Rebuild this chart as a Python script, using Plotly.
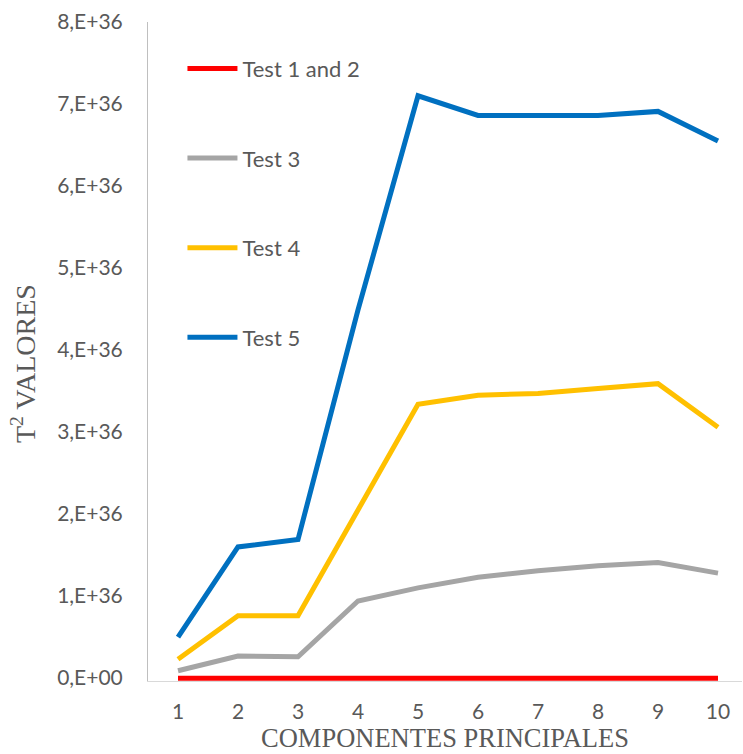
import plotly.graph_objects as go

components = [1, 2, 3, 4, 5, 6, 7, 8, 9, 10]
test_1_2 = [0, 0, 0, 0, 0, 0, 0, 0, 0, 0]
test_3 = [0.09e36, 0.27e36, 0.26e36, 0.94e36, 1.10e36, 1.23e36, 1.31e36, 1.37e36, 1.41e36, 1.28e36]
test_4 = [0.23e36, 0.76e36, 0.76e36, 2.05e36, 3.34e36, 3.45e36, 3.47e36, 3.53e36, 3.59e36, 3.06e36]
test_5 = [0.50e36, 1.60e36, 1.69e36, 4.49e36, 7.10e36, 6.86e36, 6.86e36, 6.86e36, 6.91e36, 6.55e36]
y_tickvals = [0, 1e36, 2e36, 3e36, 4e36, 5e36, 6e36, 7e36, 8e36]
y_ticktext = ["0,E+00", "1,E+36", "2,E+36", "3,E+36", "4,E+36", "5,E+36", "6,E+36", "7,E+36", "8,E+36"]

series = [
    ("Test 1 and 2", test_1_2, "#FF0000"),
    ("Test 3", test_3, "#A5A5A5"),
    ("Test 4", test_4, "#FFC000"),
    ("Test 5", test_5, "#0070C0"),
]

fig = go.Figure()
for i, (name, vals, color) in enumerate(series):
    fig.add_trace(go.Scatter(
        x=components, y=vals, name=name, mode="lines",
        line=dict(color=color, width=5),
        legendgroup=f"g{i}", cliponaxis=False,
    ))

fig.update_layout(
    width=743, height=754,
    margin=dict(l=148, r=1, t=22, b=73),
    paper_bgcolor="white", plot_bgcolor="white",
    font=dict(family="Lato", color="#595959", size=21),
    showlegend=True,
    legend=dict(
        x=0.058, y=0.961, xanchor="left", yanchor="top",
        bgcolor="rgba(0,0,0,0)", tracegroupgap=58,
        traceorder="grouped", itemwidth=50,
        font=dict(family="Lato", size=22, color="#595959"),
    ),
    xaxis=dict(
        range=[0.5, 10.4], tickvals=components, showgrid=False, zeroline=False,
        showline=True, linecolor="#D9D9D9", linewidth=1, automargin=False,
        ticks="", ticklabelstandoff=12,
        title=dict(text="COMPONENTES PRINCIPALES", standoff=2,
                   font=dict(family="Liberation Serif", size=26.5, color="#595959")),
    ),
    yaxis=dict(
        range=[-0.035e36, 8e36], tickvals=y_tickvals, ticktext=y_ticktext,
        showgrid=False, zeroline=False, automargin=False,
        showline=True, linecolor="#BFBFBF", linewidth=1,
        ticks="", ticklabelstandoff=20,
    ),
    annotations=[dict(
        text="T<sup>2</sup> VALORES", textangle=-90,
        xref="paper", yref="paper", x=-0.2104, y=0.481,
        xanchor="center", yanchor="middle", showarrow=False,
        font=dict(family="Liberation Serif", size=28, color="#595959"),
    )],
)

fig.write_html("out.html", config={"displayModeBar": False},
               post_script="document.body.style.margin='0';document.body.style.padding='0';")
